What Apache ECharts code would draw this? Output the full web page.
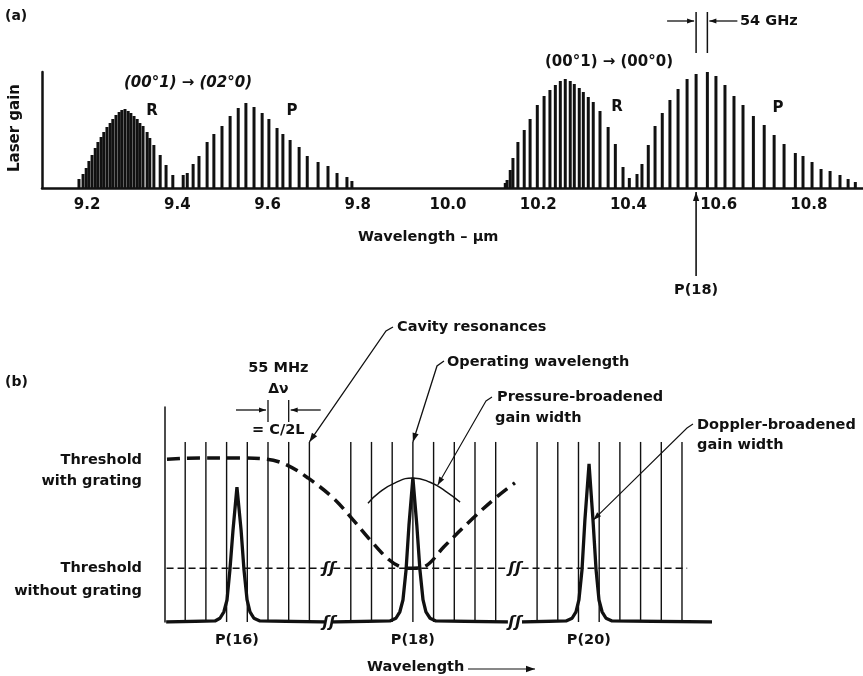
<!DOCTYPE html>
<html>
<head>
<meta charset="utf-8">
<script src="https://cdn.jsdelivr.net/npm/echarts@6/dist/echarts.min.js"></script>
<style>
  html, body { margin: 0; background: #fff; }
  #chart { width: 863px; height: 676px; }
</style>
</head>
<body>
<div id="chart"></div>
<script>
const INK = '#111'
const FONT = '"DejaVu Sans", sans-serif'

// ---- (a) CO2 laser gain spectrum: [wavelength µm, relative gain] ----
const aTicks = [9.2, 9.4, 9.6, 9.8, 10.0, 10.2, 10.4, 10.6, 10.8]
const band96R = [
  [9.182, 9], [9.191, 14], [9.198, 20], [9.204, 27], [9.211, 33], [9.218, 40], [9.224, 46],
  [9.231, 51], [9.237, 56], [9.244, 61], [9.251, 65], [9.257, 69], [9.264, 73], [9.271, 76],
  [9.277, 78], [9.284, 79], [9.291, 77], [9.297, 75], [9.304, 72], [9.311, 69], [9.317, 65],
  [9.324, 62], [9.333, 56], [9.339, 50], [9.348, 43], [9.362, 33], [9.375, 23], [9.390, 13]
]
const band96P = [
  [9.413, 13], [9.422, 15], [9.435, 24], [9.448, 32], [9.466, 46], [9.481, 54], [9.499, 62],
  [9.517, 72], [9.535, 80], [9.552, 85], [9.570, 81], [9.588, 75], [9.603, 69], [9.621, 60],
  [9.634, 54], [9.650, 48], [9.670, 41], [9.688, 32], [9.712, 26], [9.734, 22], [9.754, 15],
  [9.776, 11], [9.787, 7]
]
const band106R = [
  [10.127, 5], [10.131, 8], [10.138, 18], [10.144, 30], [10.155, 46], [10.169, 58], [10.182, 69],
  [10.198, 83], [10.213, 92], [10.226, 98], [10.238, 103], [10.249, 107], [10.260, 109],
  [10.271, 107], [10.280, 104], [10.291, 100], [10.300, 96], [10.311, 91], [10.322, 86],
  [10.337, 77], [10.355, 61], [10.371, 44], [10.388, 21]
]
const band106P = [
  [10.402, 10], [10.419, 14], [10.430, 24], [10.444, 43], [10.459, 62], [10.475, 75], [10.492, 88],
  [10.510, 99], [10.530, 109], [10.550, 114], [10.575, 117], [10.594, 112], [10.614, 103],
  [10.634, 92], [10.654, 83], [10.677, 72], [10.701, 63], [10.723, 53], [10.745, 44], [10.770, 35],
  [10.787, 32], [10.807, 26], [10.827, 19], [10.847, 17], [10.869, 13], [10.887, 9], [10.903, 6]
]
const spacingMarks = [10.55, 10.575]   // two adjacent lines, 54 GHz apart
const p18Wavelength = 10.55

// ---- (b) schematic: x in cavity-mode units, y in gain relative to threshold ----
const cavityModes = [1, 2, 3, 4, 5, 6, 7, 9, 10, 11, 12, 13, 14, 15, 16, 18, 19, 20, 21, 22, 23, 24, 25]
const cavityTop = 3.35
const gainP16 = [
  [0.08, 0], [2.44, 0.02], [2.68, 0.07], [2.87, 0.19], [3.02, 0.41], [3.16, 0.97], [3.31, 1.71],
  [3.5, 2.51], [3.7, 1.71], [3.84, 0.97], [3.99, 0.41], [4.13, 0.19], [4.32, 0.07], [4.61, 0.02], [7.75, 0]
]
const gainP18 = [
  [8.14, 0], [10.89, 0.02], [11.18, 0.07], [11.37, 0.19], [11.52, 0.41], [11.67, 0.97], [11.81, 1.8],
  [12.0, 2.68], [12.19, 1.8], [12.34, 0.97], [12.49, 0.41], [12.63, 0.19], [12.83, 0.07], [13.11, 0.02], [16.59, 0]
]
const gainP20 = [
  [17.27, 0], [19.4, 0.02], [19.69, 0.07], [19.88, 0.19], [20.02, 0.41], [20.17, 0.97], [20.31, 1.9],
  [20.51, 2.94], [20.7, 1.9], [20.85, 0.97], [20.99, 0.41], [21.14, 0.19], [21.33, 0.07], [21.62, 0.02], [26.45, 0]
]
const peakModes = [3.5, 12.0, 20.5]
const peakLabels = ['P(16)', 'P(18)', 'P(20)']
const gratingThreshold = [
  [0.12, 3.03], [1.71, 3.05], [3.65, 3.05], [4.95, 3.03], [5.92, 2.92], [6.93, 2.68], [8.14, 2.31],
  [9.11, 1.9], [9.93, 1.53], [10.75, 1.19], [11.38, 1.03], [12.0, 1.0], [12.62, 1.04], [13.5, 1.4],
  [14.9, 1.93], [16.06, 2.33], [16.93, 2.59]
]
const plainThreshold = 1.0
const plainThresholdSegments = [[0.1, 7.75], [8.15, 16.6], [17.25, 25.25]]
const pressureArc = [[9.83, 2.21], [10.41, 2.42], [11.14, 2.59], [12.0, 2.68], [12.83, 2.6], [13.55, 2.44], [14.28, 2.23]]
const breakMarks = [[7.95, 1.0], [7.95, 0], [16.93, 1.0], [16.93, 0]]

const chart = echarts.init(document.getElementById('chart'))

const barSeries = (data) => ({
  type: 'bar', xAxisIndex: 0, yAxisIndex: 0, data,
  barWidth: 3, barGap: '-100%', itemStyle: { color: INK }, silent: true
})
const lineSeries = (data, width, extra) => Object.assign({
  type: 'line', xAxisIndex: 1, yAxisIndex: 1, data, symbol: 'none',
  lineStyle: { color: INK, width }, silent: true, z: 3
}, extra)

chart.setOption({
  backgroundColor: '#fff',
  animation: false,
  textStyle: { fontFamily: FONT },
  grid: [
    { left: 42, right: 0, top: 72, bottom: 488 },
    { left: 164.5, right: 151, top: 407, bottom: 54 }
  ],
  xAxis: [
    {
      type: 'value', gridIndex: 0, min: 9.1, max: 10.92,
      splitLine: { show: false }, axisTick: { show: false },
      axisLine: { lineStyle: { color: INK, width: 2.5 } },
      axisLabel: {
        customValues: aTicks, formatter: (v) => v.toFixed(1),
        color: INK, fontSize: 15, fontWeight: 'bold', margin: 10
      }
    },
    { type: 'value', gridIndex: 1, min: 0, max: 26.45, show: false }
  ],
  yAxis: [
    {
      type: 'value', gridIndex: 0, min: 0, max: 116,
      splitLine: { show: false }, axisLabel: { show: false }, axisTick: { show: false },
      axisLine: { show: true, lineStyle: { color: INK, width: 2.5 } }
    },
    {
      type: 'value', gridIndex: 1, min: 0, max: 4,
      splitLine: { show: false }, axisLabel: { show: false }, axisTick: { show: false },
      axisLine: { show: true, lineStyle: { color: INK, width: 1.5 } }
    }
  ],
  series: [
    barSeries(band96R),
    barSeries(band96P),
    barSeries(band106R),
    barSeries(band106P),
    {
      type: 'bar', xAxisIndex: 1, yAxisIndex: 1,
      data: cavityModes.map((m) => [m, cavityTop]),
      barWidth: 1.4, itemStyle: { color: INK }, silent: true
    },
    lineSeries(gainP16, 3.3),
    lineSeries(gainP18, 3.3),
    lineSeries(gainP20, 3.3),
    lineSeries(gratingThreshold, 3.5, {
      smooth: 0.35,
      lineStyle: { color: INK, width: 3.5, type: [13, 7] }
    }),
    ...plainThresholdSegments.map(([a, b]) =>
      lineSeries([[a, plainThreshold], [b, plainThreshold]], 1.3, { lineStyle: { color: INK, width: 1.3, type: [7, 4] } })),
    lineSeries(pressureArc, 1.4, { smooth: true })
  ]
})

// ---- annotations ----
const px = (grid, p) => chart.convertToPixel({ gridIndex: grid }, p)
const text = (str, x, y, opts) => ({
  type: 'text', x, y, z: 10,
  style: Object.assign({
    text: str, fill: INK, font: 'bold 14.5px ' + FONT,
    textAlign: 'left', align: 'left', textVerticalAlign: 'middle', verticalAlign: 'middle'
  }, opts || {})
})
const centered = { textAlign: 'center', align: 'center' }
const rightAl = { textAlign: 'right', align: 'right' }
const line = (pts, w) => ({
  type: 'polyline', z: 10, shape: { points: pts },
  style: { stroke: INK, lineWidth: w || 1.3, fill: 'none' }
})
const head = (from, to, size) => {
  const a = Math.atan2(to[1] - from[1], to[0] - from[0])
  const s = size || 8
  const w = s * 0.35
  const bx = to[0] - s * Math.cos(a)
  const by = to[1] - s * Math.sin(a)
  return {
    type: 'polygon', z: 10,
    shape: { points: [to, [bx + w * Math.sin(a), by - w * Math.cos(a)], [bx - w * Math.sin(a), by + w * Math.cos(a)]] },
    style: { fill: INK }
  }
}
const arrow = (pts, size, w) => [line(pts, w), head(pts[pts.length - 2], pts[pts.length - 1], size)]

const g = []
// panel (a)
g.push(text('(a)', 5, 16, { font: 'bold 14px ' + FONT }))
g.push({
  type: 'text', x: 15, y: 128, rotation: Math.PI / 2, z: 10,
  style: { text: 'Laser gain', fill: INK, font: 'bold 15px ' + FONT, textAlign: 'center', align: 'center', textVerticalAlign: 'middle', verticalAlign: 'middle' }
})
g.push(text('(00°1) → (02°0)', 188, 83, Object.assign({ font: 'italic bold 15px ' + FONT }, centered)))
g.push(text('R', 152, 111, Object.assign({ font: 'bold 15px ' + FONT }, centered)))
g.push(text('P', 292, 111, Object.assign({ font: 'bold 15px ' + FONT }, centered)))
g.push(text('(00°1) → (00°0)', 609, 62, Object.assign({ font: 'bold 15px ' + FONT }, centered)))
g.push(text('R', 617, 107, Object.assign({ font: 'bold 15px ' + FONT }, centered)))
g.push(text('P', 778, 108, Object.assign({ font: 'bold 15px ' + FONT }, centered)))
g.push(text('Wavelength – μm', 358, 237, { font: 'bold 14.5px ' + FONT }))

const m0 = px(0, [spacingMarks[0], 0])[0]
const m1 = px(0, [spacingMarks[1], 0])[0]
g.push(line([[m0, 12], [m0, 53]], 1.5), line([[m1, 12], [m1, 53]], 1.5))
g.push(...arrow([[m0 - 29, 21], [m0 - 2, 21]], 7))
g.push(...arrow([[m1 + 30, 21], [m1 + 2, 21]], 7))
g.push(text('54 GHz', 740, 21, { font: 'bold 14.5px ' + FONT }))

const p18x = px(0, [p18Wavelength, 0])[0]
g.push(...arrow([[p18x, 276], [p18x, 192]], 9, 1.6))
g.push(text('P(18)', p18x, 290, centered))

// panel (b)
g.push(text('(b)', 5, 382, { font: 'bold 14px ' + FONT }))
g.push(text('Threshold', 142, 460, rightAl))
g.push(text('with grating', 142, 481, rightAl))
g.push(text('Threshold', 142, 568, rightAl))
g.push(text('without grating', 142, 591, rightAl))

const c5 = px(1, [5, cavityTop])[0]
const c6 = px(1, [6, cavityTop])[0]
g.push(text('55 MHz', (c5 + c6) / 2, 368, centered))
g.push(text('Δν', (c5 + c6) / 2, 389, Object.assign({ font: 'bold 14px ' + FONT }, centered)))
g.push(line([[c5, 400], [c5, 422]], 1.3), line([[c6, 400], [c6, 422]], 1.3))
g.push(...arrow([[c5 - 32, 410], [c5 - 2, 410]], 7))
g.push(...arrow([[c6 + 32, 410], [c6 + 2, 410]], 7))
g.push(text('= C/2L', (c5 + c6) / 2, 430, centered))

g.push(text('Cavity resonances', 397, 327))
g.push(...arrow([[393, 327], [386, 331], px(1, [7, cavityTop])], 9))
g.push(text('Operating wavelength', 447, 362))
g.push(...arrow([[444, 361], [437, 366], px(1, [12, cavityTop])], 9))
g.push(text('Pressure-broadened', 497, 397))
g.push(text('gain width', 495, 418))
g.push(...arrow([[492, 397], [486, 401], px(1, [13.2, 2.55])], 8, 1.1))
g.push(text('Doppler-broadened', 697, 425))
g.push(text('gain width', 697, 445))
g.push(...arrow([[693, 424], [687, 428], px(1, [20.72, 1.9])], 8, 1.1))

breakMarks.forEach((b) => {
  const p = px(1, b)
  g.push(text('ʃʃ', p[0], p[1] + 1, Object.assign({ font: 'italic bold 16px ' + FONT }, centered)))
})
peakModes.forEach((m, i) => {
  g.push(text(peakLabels[i], px(1, [m, 0])[0], 640, centered))
})
g.push(text('Wavelength', 367, 667))
g.push(...arrow([[468, 669], [535, 669]], 9, 1.2))

chart.setOption({ graphic: g })
</script>
</body>
</html>
